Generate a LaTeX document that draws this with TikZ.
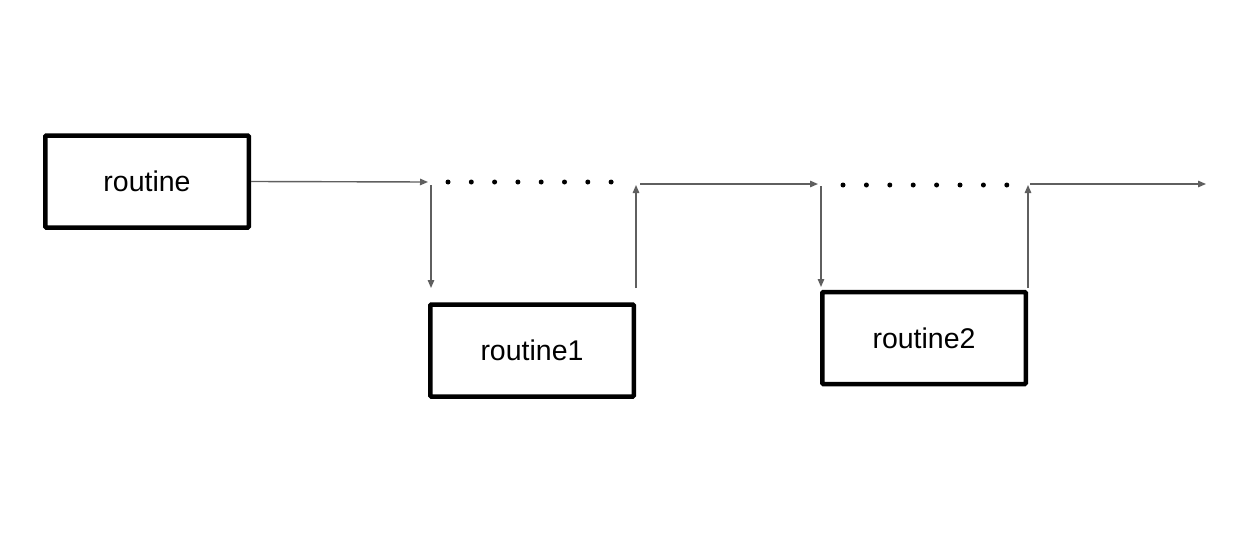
\documentclass[tikz,border=0pt]{standalone}
\usepackage{fontspec}
\setmainfont{Liberation Sans}
\usetikzlibrary{arrows.meta}
\definecolor{conngray}{HTML}{5F5F5F}
\begin{document}
\begin{tikzpicture}[x=1pt,y=-1pt,
  box/.style={draw=black,line width=4.5pt,rounded corners=1pt,minimum width=203.5pt,minimum height=92pt,inner sep=0pt,font=\fontsize{28.5}{33}\selectfont},
  conn/.style={draw=conngray,line width=1.4pt,-{Triangle[length=8pt,width=6.5pt]}},
  dot/.style={fill=black}]
\useasboundingbox (0,0) rectangle (1251,551);
\node[box] (r0) at (147,181.5) {routine};
\node[box] (r1) at (532,350.5) {routine1};
\node[box] (r2) at (924,338) {routine2};
\coordinate (a1end) at (428,182);
\coordinate (d1top) at (431,185);
\coordinate (d1bot) at (431,288);
\coordinate (u1bot) at (636,288);
\coordinate (u1top) at (636,185);
\coordinate (a2start) at (640,184);
\coordinate (a2end) at (818,184);
\coordinate (d2top) at (821,186);
\coordinate (d2bot) at (821,287);
\coordinate (u2bot) at (1028,288);
\coordinate (u2top) at (1028,185);
\coordinate (a3start) at (1030,184);
\coordinate (a3end) at (1206,184);
\draw[conn] (r0.east) -- (a1end);
\draw[conn] (d1top) -- (d1bot);
\draw[conn] (u1bot) -- (u1top);
\draw[conn] (a2start) -- (a2end);
\draw[conn] (d2top) -- (d2bot);
\draw[conn] (u2bot) -- (u2top);
\draw[conn] (a3start) -- (a3end);
\foreach \i in {0,...,7} {
  \fill[dot] (448+\i*23.3,182) circle (2.5pt);
  \fill[dot] (843+\i*23.4,185) circle (2.5pt);
}
\end{tikzpicture}
\end{document}
